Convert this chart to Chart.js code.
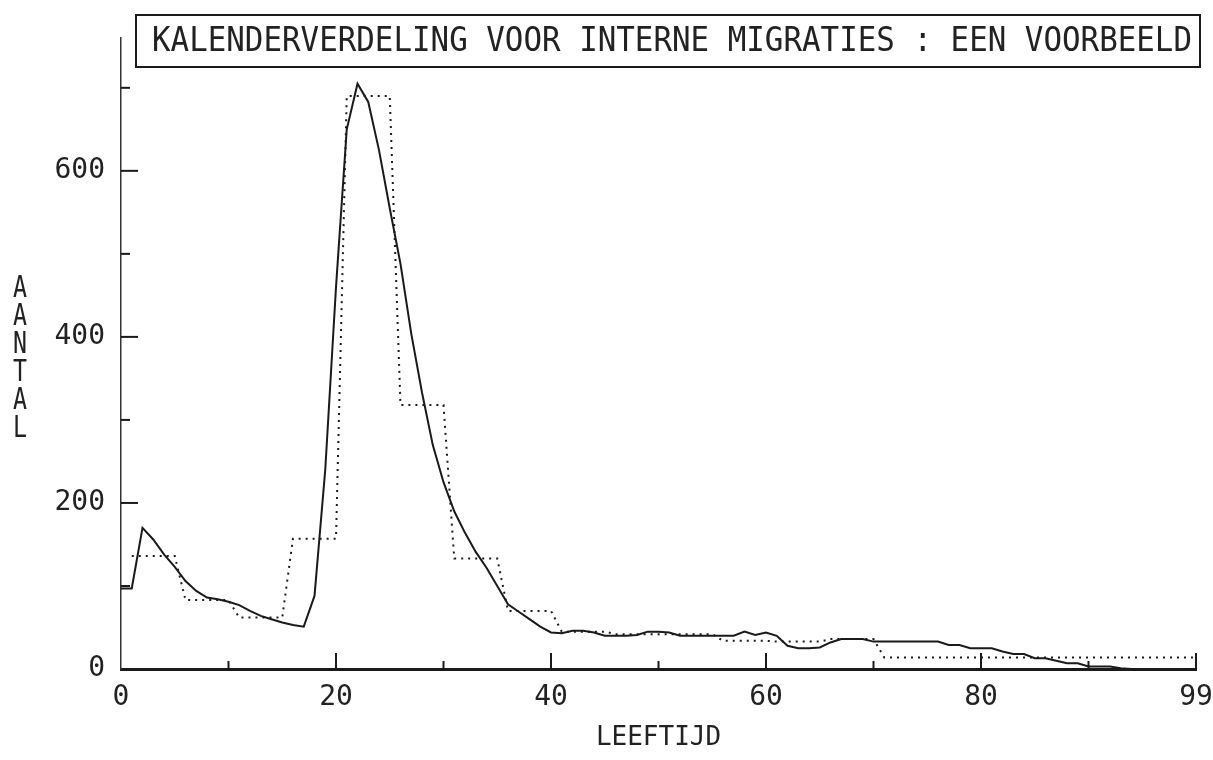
<!DOCTYPE html>
<html>
<head>
<meta charset="utf-8">
<title>Kalenderverdeling voor interne migraties</title>
<script src="https://cdn.jsdelivr.net/npm/chart.js@4.4.0/dist/chart.umd.min.js"></script>
<style>
  html, body { margin: 0; padding: 0; background: #fff; }
  #wrap { width: 1213px; height: 760px; }
</style>
</head>
<body>
<div id="wrap"><canvas id="migratieChart" width="1213" height="760"></canvas></div>
<script>
// --- 1. DATA ---
const chartTitle = 'KALENDERVERDELING VOOR INTERNE MIGRATIES : EEN VOORBEELD';
const xTitle = 'LEEFTIJD';
const yTitle = 'AANTAL';

// solid curve: one value per age step, index = position on the age axis (0..99)
const singleYearValues = [
     97,  97, 170, 156, 138, 123, 106,  94,  86,  84,
     81,  77,  70,  64,  60,  56,  53,  51,  88, 240,
    460, 650, 705, 683, 625, 555, 488, 404, 333, 270,
    225, 190, 164, 141, 122, 100,  78,  69,  60,  51,
     44,  43,  46,  46,  44,  40,  40,  40,  41,  45,
     45,  44,  40,  40,  40,  40,  40,  40,  45,  41,
     44,  40,  28,  25,  25,  26,  32,  36,  36,  36,
     33,  33,  33,  33,  33,  33,  33,  29,  29,  25,
     25,  25,  21,  18,  18,  13,  13,  10,   7,   7,
      3,   3,   3,   1,   0,   0,   0,   0,   0,   0
];

// dotted steps: age groups and their value
const groupFrom   = [  0,  5, 10, 15,  20,  25,  30, 35, 40, 45, 50, 55, 60, 65, 70];
const groupTo     = [  4,  9, 14, 19,  24,  29,  34, 39, 44, 49, 54, 59, 64, 69, 99];
const groupValues = [136, 83, 62, 157, 690, 318, 133, 70, 45, 42, 42, 34, 33, 36, 14];

// axes
const xTickValues = [0, 10, 20, 30, 40, 50, 60, 70, 80, 90, 100];
const xTickLabels = ['0', '', '20', '', '40', '', '60', '', '80', '', '99'];
const yTickValues = [0, 100, 200, 300, 400, 500, 600, 700];
const yTickLabels = ['0', '', '200', '', '400', '', '600', ''];

// --- 2. BUILD POINTS ---
const singlePoints = singleYearValues.map((v, i) => ({ x: i, y: v }));

// the grouped series is plotted one step to the right (age a drawn at a + 1)
const groupPoints = [];
groupFrom.forEach((from, g) => {
    for (let a = from; a <= groupTo[g]; a++) {
        groupPoints.push({ x: a + 1, y: groupValues[g] });
    }
});

// --- 3. CHART ---
const monoFont = "'DejaVu Sans Mono', 'Liberation Mono', monospace";
const ink = '#1a1a1a';

// inward tick marks, boxed title and the stacked y title
const plotterFrame = {
    id: 'plotterFrame',
    afterDraw(chart) {
        const ctx = chart.ctx;
        const area = chart.chartArea;
        const xs = chart.scales.x;
        const ys = chart.scales.y;
        ctx.save();
        ctx.strokeStyle = ink;
        ctx.lineWidth = 2;

        xTickValues.forEach(v => {
            if (v === 0) return;
            const px = xs.getPixelForValue(v);
            const len = (v % 20 === 0) ? 16 : 8;
            ctx.beginPath();
            ctx.moveTo(px, area.bottom);
            ctx.lineTo(px, area.bottom - len);
            ctx.stroke();
        });
        yTickValues.forEach(v => {
            if (v === 0) return;
            const py = ys.getPixelForValue(v);
            const len = (v % 200 === 0) ? 17 : 9;
            ctx.beginPath();
            ctx.moveTo(area.left, py);
            ctx.lineTo(area.left + len, py);
            ctx.stroke();
        });

        // title box, text squeezed to the plotter's narrow lettering
        const boxLeft = area.left + 15;
        const boxRight = area.right + 4;
        ctx.lineWidth = 2;
        ctx.strokeRect(boxLeft, 15, boxRight - boxLeft, 52);
        ctx.fillStyle = '#222';
        ctx.font = '33px ' + monoFont;
        ctx.textBaseline = 'middle';
        ctx.textAlign = 'left';
        ctx.fillText(chartTitle, boxLeft + 16, 42, boxRight - boxLeft - 24);

        // y title, letters stacked upright
        ctx.font = '31px ' + monoFont;
        ctx.textAlign = 'center';
        yTitle.split('').forEach((ch, i) => {
            ctx.fillText(ch, 20, 289 + i * 28, 14);
        });
        ctx.restore();
    }
};

new Chart(document.getElementById('migratieChart'), {
    type: 'line',
    data: {
        datasets: [
            {
                label: 'per leeftijd',
                data: singlePoints,
                borderColor: ink,
                borderWidth: 2,
                pointRadius: 0,
                tension: 0
            },
            {
                label: 'per groep',
                data: groupPoints,
                borderColor: ink,
                borderWidth: 2,
                borderDash: [2, 5],
                pointRadius: 0,
                tension: 0
            }
        ]
    },
    options: {
        responsive: false,
        animation: false,
        devicePixelRatio: 1,
        layout: { padding: { top: 38, right: 17, left: 0, bottom: 0 } },
        plugins: {
            legend: { display: false },
            tooltip: { enabled: false },
            title: { display: false }
        },
        scales: {
            x: {
                type: 'linear',
                min: 0,
                max: 100,
                afterBuildTicks: s => { s.ticks = xTickValues.map(v => ({ value: v })); },
                afterFit: s => { s.height = 91; s.paddingLeft = 0; s.paddingRight = 0; },
                grid: { display: false, drawTicks: false },
                border: { display: true, color: ink, width: 3 },
                ticks: {
                    autoSkip: false,
                    maxRotation: 0,
                    padding: 12,
                    color: '#222',
                    font: { family: monoFont, size: 28 },
                    callback: v => xTickLabels[xTickValues.indexOf(v)]
                },
                title: {
                    display: true,
                    text: xTitle,
                    color: '#222',
                    font: { family: monoFont, size: 26 },
                    padding: { top: 0, bottom: 6 }
                }
            },
            y: {
                min: 0,
                max: 760,
                afterBuildTicks: s => { s.ticks = yTickValues.map(v => ({ value: v })); },
                afterFit: s => { s.width = 121; },
                grid: { display: false, drawTicks: false },
                border: { display: true, color: '#333', width: 1.5 },
                ticks: {
                    padding: 16,
                    color: '#222',
                    font: { family: monoFont, size: 28 },
                    callback: v => yTickLabels[yTickValues.indexOf(v)]
                }
            }
        }
    },
    plugins: [plotterFrame]
});
</script>
</body>
</html>
